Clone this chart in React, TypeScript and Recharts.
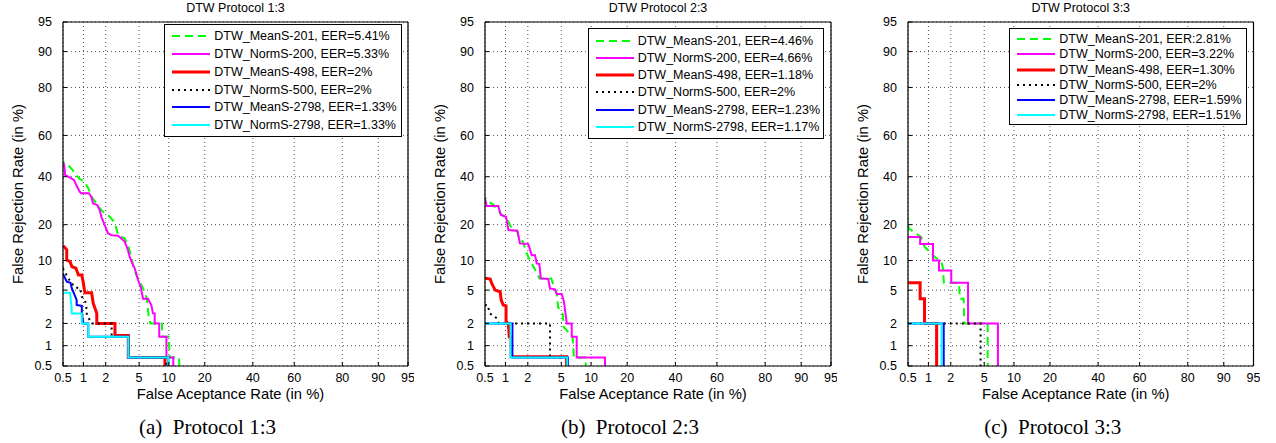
import React from "react";
import { LineChart, Line, XAxis, YAxis, CartesianGrid, Legend } from "recharts";

// DET axis ticks, in percent (normal-deviate scale)
const TICKS = [0.5, 1, 2, 5, 10, 20, 40, 60, 80, 90, 95];

// Protocol 1:3 — [FAR %, FRR %]
const p1MeanS201 = [[0.4, 47], [0.54, 46.8], [0.6, 45.6], [0.71, 42.9], [0.75, 41.3], [0.885, 38.9], [0.99, 38.1], [1.1, 36.1], [1.19, 34.2], [1.29, 30.9], [1.51, 28.1], [1.67, 26.1], [1.85, 24.7], [2.04, 23.9], [2.25, 22.8], [2.48, 21.4], [2.64, 20.2], [2.85, 16.6], [3.43, 15.6], [3.75, 13.8], [4.09, 10.8], [4.28, 9.06], [4.66, 7.22], [5.08, 6.16], [5.52, 5.22], [5.83, 4.6], [6.12, 3.69], [6.33, 2.43], [6.6, 2.0], [8.6, 2.0], [8.7, 1.33], [10.0, 1.33], [10.2, 0.67], [12.4, 0.67], [12.5, 0.3]];
const p1NormS200 = [[0.4, 46.5], [0.52, 46.1], [0.54, 40.8], [0.63, 39.7], [0.73, 38.5], [0.79, 36.1], [0.885, 33.1], [0.93, 32.4], [1.19, 32.4], [1.29, 30.9], [1.36, 28.1], [1.55, 27.4], [1.67, 25.4], [1.76, 22.8], [1.94, 19.9], [2.14, 17.2], [2.36, 16.6], [2.85, 16.4], [3.13, 15.6], [3.43, 14.7], [3.75, 12.4], [3.92, 10.8], [4.28, 9.06], [4.47, 8.43], [4.87, 6.41], [5.2, 5.45], [5.52, 4.0], [6.23, 4.0], [6.74, 3.38], [7.01, 2.68], [7.3, 2.67], [7.3, 2.0], [8.1, 2.0], [8.1, 1.33], [9.5, 1.33], [9.5, 0.67], [11.0, 0.67], [11.0, 0.3]];
const p1MeanS498 = [[0.4, 13.3], [0.52, 13.3], [0.57, 12.5], [0.57, 10.1], [0.64, 9.75], [0.68, 8.74], [0.78, 8.43], [0.85, 7.22], [0.95, 7.22], [1.0, 5.93], [1.05, 4.67], [1.3, 4.67], [1.37, 3.54], [1.53, 2.67], [1.53, 2.0], [2.62, 2.0], [2.62, 1.38], [3.78, 1.38], [3.78, 0.67], [9.2, 0.67], [9.2, 0.3]];
const p1NormS500 = [[0.4, 8.4], [0.5, 8.4], [0.6, 6.68], [0.75, 5.37], [0.9, 5.22], [0.95, 4.22], [1.05, 3.87], [1.1, 3.23], [1.12, 2.56], [1.3, 2.0], [2.38, 2.0], [2.38, 1.33], [3.78, 1.33], [3.78, 0.67], [9.5, 0.67], [9.5, 0.3]];
const p1MeanS2798 = [[0.4, 7.4], [0.5, 7.4], [0.54, 6.68], [0.57, 6.16], [0.65, 6.0], [0.68, 5.22], [0.73, 4.6], [0.8, 3.87], [0.8, 3.38], [0.95, 3.3], [0.95, 2.68], [1.0, 2.0], [1.17, 2.0], [1.17, 1.33], [3.78, 1.33], [3.78, 0.67], [9.9, 0.67], [9.9, 0.3]];
const p1NormS2798 = [[0.4, 4.67], [0.64, 4.67], [0.67, 3.23], [0.68, 2.67], [0.95, 2.67], [0.95, 2.0], [1.17, 2.0], [1.17, 1.33], [3.78, 1.33], [3.78, 0.67], [9.9, 0.67], [9.9, 0.3]];

// Protocol 2:3
const p2MeanS201 = [[0.4, 30.5], [0.5, 30.5], [0.56, 28.8], [0.68, 27.4], [0.77, 25.5], [0.85, 24], [1.04, 22.3], [1.15, 20], [1.22, 18.8], [1.46, 17.7], [1.53, 15.4], [1.73, 14.7], [1.9, 12.1], [2.03, 10.8], [2.3, 9.06], [2.59, 7.6], [2.8, 6.67], [3.85, 6.67], [4.2, 5.2], [4.45, 4.6], [4.6, 3.2], [5.2, 2.6], [5.3, 1.8], [6.6, 1.33], [6.7, 0.9], [6.8, 0.67], [8.9, 0.67], [8.9, 0.3]];
const p2NormS200 = [[0.4, 30], [0.5, 30], [0.53, 27.0], [0.79, 27.0], [0.86, 23.5], [1.02, 22.8], [1.1, 18.2], [1.46, 18.0], [1.58, 14.2], [2.03, 14.0], [2.24, 11.2], [2.47, 11.2], [2.59, 9.4], [2.79, 9.27], [2.9, 6.67], [3.56, 6.57], [3.73, 5.22], [4.25, 5.1], [4.45, 4.53], [5.05, 4.53], [5.34, 3.7], [5.72, 2.0], [6.45, 2.0], [6.45, 1.33], [7.25, 1.33], [7.25, 0.67], [13.3, 0.67], [13.3, 0.3]];
const p2MeanS498 = [[0.4, 6.68], [0.51, 6.68], [0.6, 6.57], [0.63, 5.93], [0.71, 5.0], [0.84, 4.8], [0.87, 3.87], [0.93, 3.38], [1.02, 3.3], [1.02, 2.1], [1.1, 2.0], [1.13, 1.33], [1.2, 1.33], [1.2, 0.69], [5.7, 0.69], [5.7, 0.3]];
const p2NormS500 = [[0.4, 3.4], [0.55, 3.38], [0.59, 2.68], [0.75, 2.33], [0.8, 2.0], [3.73, 2.0], [3.73, 0.67], [5.8, 0.67], [5.8, 0.3]];
const p2MeanS2798 = [[0.4, 2.0], [1.25, 2.0], [1.25, 0.67], [5.9, 0.67], [5.9, 0.3]];
const p2NormS2798 = [[0.4, 2.0], [1.18, 2.0], [1.18, 0.67], [5.8, 0.67], [5.8, 0.3]];

// Protocol 3:3
const p3MeanS201 = [[0.4, 22.2], [0.5, 22.2], [0.51, 18.8], [0.6, 17.7], [0.79, 16], [0.88, 13.3], [1.04, 12], [1.16, 11.2], [1.29, 10.5], [1.5, 9.75], [1.57, 8.74], [1.63, 6.0], [2.54, 6.0], [2.6, 4.0], [2.9, 4.0], [2.95, 2.0], [5.45, 2.0], [5.45, 0.3]];
const p3NormS200 = [[0.4, 16], [0.76, 16], [0.76, 14], [1.16, 14], [1.16, 10], [1.4, 10], [1.4, 8], [2.03, 8], [2.03, 6], [3.27, 6], [3.27, 2], [6.98, 2], [6.98, 0.3]];
const p3MeanS498 = [[0.4, 6], [0.76, 6], [0.76, 4], [0.88, 4], [0.88, 2], [1.3, 2], [1.3, 0.3]];
const p3NormS500 = [[0.4, 2], [4.56, 2], [4.56, 0.3]];
const p3MeanS2798 = [[0.4, 2], [1.62, 2], [1.62, 0.3]];
const p3NormS2798 = [[0.4, 2], [1.52, 2], [1.52, 0.3]];

const P1_NAMES = ["DTW_MeanS-201, EER=5.41%", "DTW_NormS-200, EER=5.33%", "DTW_MeanS-498, EER=2%", "DTW_NormS-500, EER=2%", "DTW_MeanS-2798, EER=1.33%", "DTW_NormS-2798, EER=1.33%"];
const P2_NAMES = ["DTW_MeanS-201, EER=4.46%", "DTW_NormS-200, EER=4.66%", "DTW_MeanS-498, EER=1.18%", "DTW_NormS-500, EER=2%", "DTW_MeanS-2798, EER=1.23%", "DTW_NormS-2798, EER=1.17%"];
const P3_NAMES = ["DTW_MeanS-201, EER:2.81%", "DTW_NormS-200, EER=3.22%", "DTW_MeanS-498, EER=1.30%", "DTW_NormS-500, EER=2%", "DTW_MeanS-2798, EER=1.59%", "DTW_NormS-2798, EER=1.51%"];

const LINE_STYLES = [
  { color: "#00ff00", width: 2, dash: "8 5" },
  { color: "#ff00ff", width: 2 },
  { color: "#ff0000", width: 3 },
  { color: "#000000", width: 2, dash: "2 4" },
  { color: "#0000ff", width: 2 },
  { color: "#00ffff", width: 2 },
];

const SANS = "'Liberation Sans', Arial, Helvetica, sans-serif";
const SERIF = "'Liberation Serif', 'Times New Roman', serif";

// inverse normal CDF (Acklam)
function probit(pct: number) {
  const p = pct / 100;
  const a = [-39.69683028665376, 220.9460984245205, -275.9285104469687, 138.357751867269, -30.66479806614716, 2.506628277459239];
  const b = [-54.47609879822406, 161.5858368580409, -155.6989798598866, 66.80131188771972, -13.28068155288572];
  const c = [-0.007784894002430293, -0.3223964580411365, -2.400758277161838, -2.549732539343734, 4.374664141464968, 2.938163982698783];
  const d = [0.007784695709041462, 0.3224671290700398, 2.445134137142996, 3.754408661907416];
  const tail = (q: number) =>
    (((((c[0] * q + c[1]) * q + c[2]) * q + c[3]) * q + c[4]) * q + c[5]) /
    ((((d[0] * q + d[1]) * q + d[2]) * q + d[3]) * q + 1);
  if (p < 0.02425) return tail(Math.sqrt(-2 * Math.log(p)));
  if (p > 1 - 0.02425) return -tail(Math.sqrt(-2 * Math.log(1 - p)));
  const q = p - 0.5;
  const r = q * q;
  return ((((((a[0] * r + a[1]) * r + a[2]) * r + a[3]) * r + a[4]) * r + a[5]) * q) /
    (((((b[0] * r + b[1]) * r + b[2]) * r + b[3]) * r + b[4]) * r + 1);
}

const Z_TICKS = TICKS.map(probit);
const Z_MIN = Z_TICKS[0];
const Z_MAX = Z_TICKS[Z_TICKS.length - 1];

const fmtTick = (v: number) => {
  const i = Z_TICKS.findIndex((z) => Math.abs(z - v) < 1e-6);
  return i >= 0 ? String(TICKS[i]) : "";
};

const toPoints = (pts: number[][]) => pts.map(([far, frr]) => ({ x: probit(far), y: probit(frr) }));

const PLOT_LEFT = 63;
const PLOT_TOP = 22;
const PLOT_BOTTOM = 366;
const CHART_H = 390;

const PANELS = [
  {
    left: 0, plotW: 345, title: "DTW Protocol 1:3", caption: "(a)\u00a0\u00a0Protocol 1:3",
    series: [p1MeanS201, p1NormS200, p1MeanS498, p1NormS500, p1MeanS2798, p1NormS2798], names: P1_NAMES,
    legend: { left: 164.3, top: 24.3, width: 237.4, rowH: 17.8, padTop: 2, padBottom: 2 },
  },
  {
    left: 422, plotW: 346, title: "DTW Protocol 2:3", caption: "(b)\u00a0\u00a0Protocol 2:3",
    series: [p2MeanS201, p2NormS200, p2MeanS498, p2NormS500, p2MeanS2798, p2NormS2798], names: P2_NAMES,
    legend: { left: 165.7, top: 28.3, width: 236.6, rowH: 17.2, padTop: 3, padBottom: 2.5 },
  },
  {
    left: 845, plotW: 345.5, title: "DTW Protocol 3:3", caption: "(c)\u00a0\u00a0Protocol 3:3",
    series: [p3MeanS201, p3NormS200, p3MeanS498, p3NormS500, p3MeanS2798, p3NormS2798], names: P3_NAMES,
    legend: { left: 164.3, top: 27.7, width: 237.4, rowH: 15.2, padTop: 3, padBottom: 1.5 },
  },
];

type Box = { left: number; top: number; width: number; rowH: number; padTop: number; padBottom: number };

function DetLegend({ names, box }: { names: string[]; box: Box }) {
  return (
    <div
      style={{
        boxSizing: "border-box", width: box.width, border: "1px solid #000", background: "#fff",
        paddingTop: box.padTop, paddingBottom: box.padBottom, fontFamily: SANS, fontSize: 12.5, color: "#000",
      }}
    >
      {names.map((name, i) => {
        const s = LINE_STYLES[i];
        return (
          <div key={name} style={{ display: "flex", alignItems: "center", height: box.rowH, whiteSpace: "nowrap" }}>
            <svg width={38} height={6} style={{ marginLeft: 7, flex: "none" }}>
              <line x1={0} y1={3} x2={38} y2={3} stroke={s.color} strokeWidth={s.width} strokeDasharray={s.dash} />
            </svg>
            <span style={{ marginLeft: 4, lineHeight: "14px" }}>{name}</span>
          </div>
        );
      })}
    </div>
  );
}

const tickStyle = { fill: "#000", fontSize: 12.5, fontFamily: SANS };
const axisLine = { stroke: "#000", strokeWidth: 1.2 };
const tickLine = { stroke: "#000", strokeWidth: 1 };

function DetPanel({ panel }: { panel: (typeof PANELS)[number] }) {
  const chartW = PLOT_LEFT + panel.plotW + 6;
  const midX = PLOT_LEFT + panel.plotW / 2;
  return (
    <div style={{ position: "absolute", left: panel.left, top: 0, width: chartW, height: 443 }}>
      <div style={{ position: "absolute", left: PLOT_LEFT, width: panel.plotW, top: 1, textAlign: "center", fontFamily: SANS, fontSize: 12.5, lineHeight: "14px" }}>
        {panel.title}
      </div>
      <LineChart width={chartW} height={CHART_H} margin={{ top: PLOT_TOP, right: 6, bottom: CHART_H - PLOT_BOTTOM - 20, left: 13 }}>
        <CartesianGrid stroke="#555" strokeDasharray="1 3" fill="none" />
        <XAxis
          type="number" dataKey="x" domain={[Z_MIN, Z_MAX]} allowDataOverflow ticks={Z_TICKS} interval={0}
          tickFormatter={fmtTick} height={20} axisLine={axisLine} tickLine={tickLine} tickSize={-4} tickMargin={11} tick={tickStyle}
        />
        <YAxis
          type="number" dataKey="y" domain={[Z_MIN, Z_MAX]} allowDataOverflow ticks={Z_TICKS} interval={0}
          tickFormatter={fmtTick} width={50} axisLine={axisLine} tickLine={tickLine} tickSize={-4} tickMargin={15} tick={tickStyle}
        />
        <XAxis
          xAxisId="top" orientation="top" mirror type="number" domain={[Z_MIN, Z_MAX]} allowDataOverflow ticks={Z_TICKS}
          interval={0} tick={false} tickSize={4} axisLine={axisLine} tickLine={tickLine}
        />
        <YAxis
          yAxisId="right" orientation="right" mirror type="number" domain={[Z_MIN, Z_MAX]} allowDataOverflow ticks={Z_TICKS}
          interval={0} tick={false} tickSize={4} axisLine={axisLine} tickLine={tickLine} width={30}
        />
        <Legend
          layout="vertical" align="center" verticalAlign="middle"
          wrapperStyle={{ left: panel.legend.left, top: panel.legend.top, width: panel.legend.width }}
          content={() => <DetLegend names={panel.names} box={panel.legend} />}
        />
        {panel.series.map((pts, i) => {
          const s = LINE_STYLES[i];
          return (
            <Line
              key={panel.names[i]} data={toPoints(pts)} dataKey="y" type="linear" stroke={s.color} strokeWidth={s.width}
              strokeDasharray={s.dash} dot={false} activeDot={false} isAnimationActive={false} legendType="none"
            />
          );
        })}
      </LineChart>
      <div
        style={{
          position: "absolute", left: PLOT_LEFT - 45.5, top: (PLOT_TOP + PLOT_BOTTOM) / 2, transform: "translate(-50%, -50%) rotate(-90deg)",
          whiteSpace: "nowrap", fontFamily: SANS, fontSize: 14.8, lineHeight: "17px",
        }}
      >
        False Rejection Rate (in %)
      </div>
      <div
        style={{
          position: "absolute", left: midX - 5, top: 394, transform: "translate(-50%, -50%)",
          whiteSpace: "nowrap", fontFamily: SANS, fontSize: 14.8, lineHeight: "17px",
        }}
      >
        False Aceptance Rate (in %)
      </div>
      <div
        style={{
          position: "absolute", left: midX - 28, top: 426.5, transform: "translate(-50%, -50%)",
          whiteSpace: "nowrap", fontFamily: SERIF, fontSize: 21, lineHeight: "23px",
        }}
      >
        {panel.caption}
      </div>
    </div>
  );
}

export default function App() {
  return (
    <div style={{ position: "absolute", left: 0, top: 0, width: 1276, height: 443, background: "#fff", overflow: "hidden" }}>
      {PANELS.map((p) => (
        <DetPanel key={p.title} panel={p} />
      ))}
    </div>
  );
}
